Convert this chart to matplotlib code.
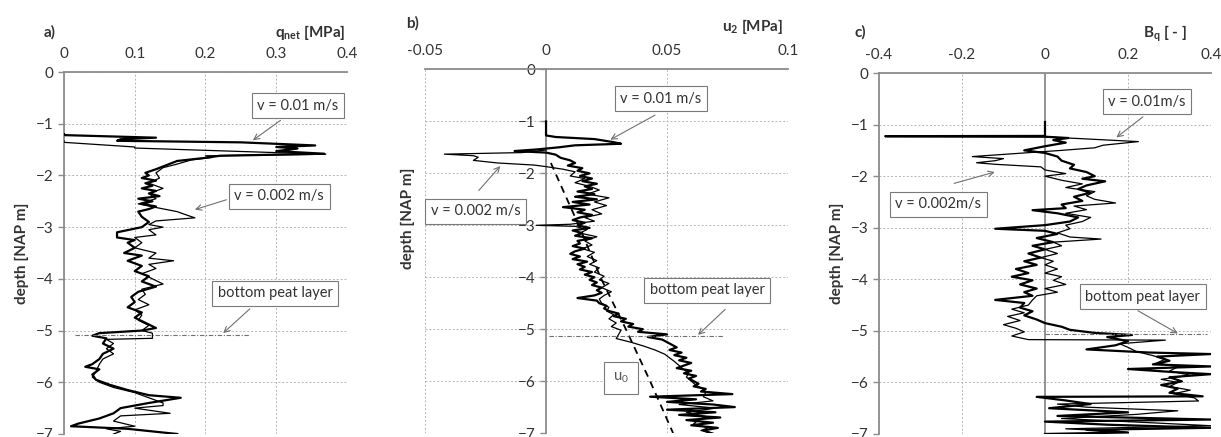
import numpy as np
import matplotlib.pyplot as plt

plt.rcParams['font.family'] = ['Lato', 'DejaVu Sans']
plt.rcParams['mathtext.fontset'] = 'custom'
plt.rcParams['mathtext.rm'] = 'Lato'
plt.rcParams['mathtext.bf'] = 'Lato:bold'
plt.rcParams['mathtext.it'] = 'Lato:italic'

# a) net cone resistance q_net [MPa]
qnet_fast_depth = [-1.20, -1.22, -1.27, -1.30, -1.33, -1.36, -1.42, -1.45, -1.48, -1.53, -1.58, -1.62, -1.66, -1.72,
                   -1.80, -1.88, -1.95, -2.00, -2.05, -2.10, -2.15, -2.20, -2.25, -2.30, -2.35, -2.40, -2.45, -2.50,
                   -2.55, -2.60, -2.65, -2.70, -2.80, -2.90, -3.00, -3.10, -3.20, -3.25, -3.30, -3.40, -3.50, -3.55,
                   -3.65, -3.75, -3.85, -3.95, -4.05, -4.15, -4.25, -4.35, -4.45, -4.55, -4.65, -4.75, -4.85, -4.95,
                   -5.00, -5.05, -5.10, -5.15, -5.25, -5.35, -5.45, -5.55, -5.65, -5.70, -5.75, -5.85, -5.95, -6.05,
                   -6.15, -6.25, -6.30, -6.40, -6.50, -6.60, -6.70, -6.80, -6.85, -6.90, -7.00]
qnet_fast = [0.0, 0.0, 0.13, 0.08, 0.075, 0.25, 0.355, 0.30, 0.33, 0.30, 0.368, 0.22, 0.20, 0.16,
             0.145, 0.13, 0.115, 0.12, 0.11, 0.13, 0.115, 0.125, 0.11, 0.13, 0.12, 0.135, 0.105, 0.125,
             0.11, 0.13, 0.12, 0.105, 0.11, 0.12, 0.11, 0.075, 0.075, 0.10, 0.09, 0.10, 0.085, 0.11,
             0.09, 0.11, 0.10, 0.12, 0.11, 0.13, 0.105, 0.095, 0.10, 0.09, 0.11, 0.10, 0.115, 0.13,
             0.11, 0.05, 0.04, 0.06, 0.055, 0.07, 0.055, 0.05, 0.04, 0.03, 0.05, 0.04, 0.045, 0.065,
             0.09, 0.12, 0.165, 0.12, 0.08, 0.07, 0.05, 0.02, 0.01, 0.09, 0.16]
qnet_slow_depth = [-1.33, -1.36, -1.45, -1.47, -1.59, -1.62, -1.65, -1.70, -1.78, -1.85, -1.95, -2.05, -2.15, -2.25,
                   -2.35, -2.45, -2.55, -2.62, -2.70, -2.75, -2.82, -2.88, -2.95, -3.00, -3.05, -3.15, -3.20, -3.30,
                   -3.40, -3.50, -3.60, -3.65, -3.72, -3.80, -3.90, -4.00, -4.10, -4.20, -4.30, -4.40, -4.50, -4.60,
                   -4.70, -4.80, -4.90, -5.00, -5.05, -5.15, -5.17, -5.25, -5.35, -5.45, -5.55, -5.65, -5.80, -5.90,
                   -6.00, -6.10, -6.20, -6.30, -6.40, -6.45, -6.50, -6.60, -6.65, -6.75, -6.85, -6.90, -6.95, -7.00]
qnet_slow = [0.0, 0.0, 0.10, 0.10, 0.37, 0.20, 0.21, 0.18, 0.16, 0.14, 0.13, 0.135, 0.12, 0.14,
             0.12, 0.13, 0.105, 0.13, 0.16, 0.17, 0.185, 0.13, 0.12, 0.14, 0.12, 0.13, 0.10, 0.11,
             0.10, 0.13, 0.12, 0.155, 0.12, 0.13, 0.11, 0.125, 0.14, 0.11, 0.115, 0.105, 0.12, 0.10,
             0.11, 0.105, 0.12, 0.11, 0.125, 0.125, 0.06, 0.07, 0.06, 0.07, 0.055, 0.05, 0.045, 0.04,
             0.05, 0.07, 0.10, 0.12, 0.14, 0.14, 0.10, 0.15, 0.08, 0.07, 0.10, 0.06, 0.08, 0.07]

# b) pore pressure u2 [MPa]
u2_fast_depth = [-1.00, -1.27, -1.30, -1.34, -1.40, -1.43, -1.46, -1.50, -1.54, -1.57, -1.60, -1.64, -1.70, -1.75,
                 -1.80, -1.85, -1.90, -1.95, -2.00, -2.05, -2.10, -2.15, -2.20, -2.25, -2.30, -2.35, -2.40, -2.45,
                 -2.50, -2.55, -2.60, -2.65, -2.70, -2.75, -2.80, -2.85, -2.90, -2.95, -3.00, -3.05, -3.10, -3.15,
                 -3.20, -3.25, -3.30, -3.35, -3.40, -3.45, -3.50, -3.55, -3.60, -3.65, -3.70, -3.75, -3.80, -3.85,
                 -3.90, -3.95, -4.00, -4.05, -4.10, -4.15, -4.20, -4.25, -4.30, -4.35, -4.40, -4.45, -4.50, -4.55,
                 -4.60, -4.65, -4.70, -4.75, -4.80, -4.85, -4.90, -4.95, -5.00, -5.05, -5.10, -5.15, -5.20, -5.25,
                 -5.30, -5.35, -5.40, -5.45, -5.50, -5.55, -5.60, -5.65, -5.70, -5.75, -5.80, -5.85, -5.90, -5.95,
                 -6.00, -6.05, -6.10, -6.15, -6.20, -6.25, -6.30, -6.35, -6.40, -6.45, -6.50, -6.55, -6.60, -6.65,
                 -6.70, -6.75, -6.80, -6.85, -6.90, -6.95, -7.00]
u2_fast = [0.0, 0.0, 0.004, 0.02, 0.028, 0.031, 0.012, 0.005, -0.004, -0.013, 0.0, 0.004, 0.006, 0.010,
           0.012, 0.009, 0.015, 0.013, 0.018, 0.014, 0.019, 0.015, 0.021, 0.016, 0.019, 0.013, 0.020, 0.012,
           0.021, 0.011, 0.018, 0.007, 0.016, 0.013, 0.019, 0.014, 0.011, 0.016, 0.013, 0.018, 0.011, 0.015,
           0.012, 0.019, 0.013, 0.014, 0.011, 0.016, 0.012, 0.010, 0.014, 0.011, 0.017, 0.013, 0.016, 0.014,
           0.019, 0.016, 0.020, 0.018, 0.021, 0.019, 0.023, 0.021, 0.023, 0.020, 0.013, 0.021, 0.022, 0.025,
           0.024, 0.026, 0.030, 0.028, 0.033, 0.031, 0.036, 0.034, 0.040, 0.038, 0.050, 0.042, 0.048, 0.050,
           0.052, 0.054, 0.051, 0.056, 0.053, 0.058, 0.055, 0.060, 0.057, 0.054, 0.060, 0.057, 0.062, 0.059,
           0.061, 0.063, 0.061, 0.066, 0.064, 0.077, 0.043, 0.062, 0.050, 0.069, 0.078, 0.050, 0.070, 0.055,
           0.072, 0.058, 0.069, 0.060, 0.071, 0.065, 0.068]
u2_slow_depth = [-1.55, -1.60, -1.63, -1.66, -1.69, -1.72, -1.75, -1.80, -1.84, -1.87, -1.92, -1.97, -2.05, -2.10,
                 -2.18, -2.25, -2.32, -2.40, -2.47, -2.55, -2.62, -2.70, -2.78, -2.85, -2.92, -2.98, -3.00, -3.02,
                 -3.08, -3.15, -3.22, -3.30, -3.38, -3.45, -3.52, -3.60, -3.68, -3.75, -3.82, -3.90, -3.98, -4.05,
                 -4.12, -4.20, -4.28, -4.35, -4.42, -4.50, -4.58, -4.65, -4.72, -4.80, -4.88, -4.95, -5.02, -5.10,
                 -5.18, -5.25, -5.32, -5.40, -5.48, -5.55, -5.62, -5.70, -5.78, -5.85, -5.92, -6.00, -6.08, -6.15,
                 -6.22, -6.30, -6.38, -6.45, -6.52, -6.60, -6.68, -6.75, -6.82, -6.90, -6.95, -7.00]
u2_slow = [0.0, -0.010, -0.042, -0.030, -0.028, -0.029, -0.030, -0.020, -0.005, 0.0, 0.007, 0.012, 0.010, 0.016,
           0.012, 0.018, 0.022, 0.017, 0.026, 0.020, 0.025, 0.019, 0.023, 0.016, 0.020, 0.010, -0.004, 0.012,
           0.017, 0.014, 0.021, 0.016, 0.019, 0.015, 0.020, 0.017, 0.021, 0.018, 0.022, 0.020, 0.024, 0.022,
           0.026, 0.023, 0.027, 0.024, 0.022, 0.023, 0.026, 0.025, 0.028, 0.026, 0.029, 0.027, 0.031, 0.030,
           0.029, 0.035, 0.040, 0.045, 0.049, 0.051, 0.053, 0.055, 0.057, 0.059, 0.058, 0.060, 0.062, 0.065,
           0.066, 0.065, 0.069, 0.055, 0.070, 0.058, 0.066, 0.063, 0.061, 0.067, 0.064, 0.069]
u0_depth = [-1.80, -3.00, -4.00, -5.00, -6.00, -7.00]
u0 = [0.002, 0.0135, 0.0225, 0.033, 0.043, 0.0525]

# c) pore pressure ratio Bq [-]
bq_fast_depth = [-0.95, -1.22, -1.225, -1.235, -1.26, -1.30, -1.35, -1.42, -1.50, -1.55, -1.62, -1.70, -1.78, -1.85,
                 -1.92, -2.00, -2.05, -2.10, -2.18, -2.25, -2.32, -2.40, -2.48, -2.55, -2.62, -2.66, -2.72, -2.80,
                 -2.88, -2.95, -3.02, -3.06, -3.12, -3.20, -3.28, -3.35, -3.42, -3.50, -3.58, -3.65, -3.72, -3.80,
                 -3.88, -3.95, -4.02, -4.10, -4.18, -4.25, -4.32, -4.40, -4.46, -4.55, -4.62, -4.70, -4.78, -4.85,
                 -4.92, -4.98, -5.04, -5.08, -5.12, -5.20, -5.28, -5.36, -5.42, -5.45, -5.50, -5.58, -5.65, -5.69,
                 -5.74, -5.80, -5.84, -5.90, -5.98, -6.05, -6.12, -6.20, -6.27, -6.28, -6.35, -6.42, -6.50, -6.58,
                 -6.65, -6.72, -6.76, -6.82, -6.88, -6.92, -6.97, -7.00]
bq_fast = [0.0, 0.0, -0.385, 0.0, 0.056, 0.02, 0.05, 0.0, -0.05, 0.0, 0.03, 0.04, 0.07, 0.06,
           0.10, 0.12, 0.09, 0.145, 0.10, 0.08, 0.11, 0.07, 0.09, 0.04, 0.05, -0.03, 0.03, 0.08,
           0.06, 0.0, -0.12, 0.0, 0.03, -0.02, 0.02, -0.03, 0.0, -0.04, -0.01, -0.05, -0.02, -0.07,
           -0.04, -0.08, -0.03, -0.06, -0.02, -0.05, -0.03, -0.12, -0.05, -0.06, -0.03, -0.05, -0.02, 0.0,
           0.04, 0.06, 0.12, 0.21, 0.15, 0.20, 0.17, 0.10, 0.25, 0.40, 0.27, 0.30, 0.26, 0.40,
           0.20, 0.31, 0.40, 0.30, 0.33, 0.28, 0.32, 0.30, 0.38, -0.02, 0.05, 0.11, 0.01, 0.20,
           0.03, 0.40, 0.0, 0.15, 0.40, 0.10, 0.20, 0.0]
bq_slow_depth = [-1.24, -1.27, -1.33, -1.40, -1.45, -1.50, -1.55, -1.62, -1.66, -1.70, -1.74, -1.77, -1.82, -1.88,
                 -1.95, -2.00, -2.08, -2.15, -2.22, -2.30, -2.38, -2.45, -2.52, -2.58, -2.65, -2.72, -2.80, -2.88,
                 -2.95, -3.02, -3.10, -3.18, -3.22, -3.28, -3.35, -3.42, -3.50, -3.58, -3.65, -3.72, -3.80, -3.88,
                 -3.95, -4.02, -4.10, -4.18, -4.25, -4.32, -4.40, -4.50, -4.58, -4.65, -4.72, -4.80, -4.88, -4.95,
                 -5.02, -5.10, -5.17, -5.18, -5.25, -5.32, -5.40, -5.48, -5.55, -5.62, -5.70, -5.78, -5.86, -5.94,
                 -6.00, -6.08, -6.15, -6.22, -6.30, -6.36, -6.42, -6.48, -6.55, -6.62, -6.70, -6.78, -6.84, -6.90,
                 -6.95, -7.00]
bq_slow = [0.0, 0.08, 0.225, 0.14, 0.12, 0.04, -0.05, -0.175, -0.10, -0.12, -0.165, -0.12, -0.01, 0.0,
           0.05, 0.0, 0.04, 0.09, 0.05, 0.12, 0.10, 0.12, 0.17, 0.07, 0.10, 0.05, 0.11, 0.09,
           0.05, 0.06, 0.03, 0.06, 0.135, 0.02, 0.04, 0.0, 0.03, -0.01, 0.02, 0.0, 0.03, 0.0,
           0.04, 0.02, 0.05, 0.0, 0.03, -0.02, -0.03, -0.04, -0.08, -0.05, -0.09, -0.06, -0.10, -0.07,
           -0.05, -0.08, -0.04, 0.29, 0.18, 0.20, 0.22, 0.26, 0.29, 0.27, 0.32, 0.30, 0.35, 0.28,
           0.32, 0.30, 0.35, 0.31, 0.36, 0.37, 0.03, 0.10, 0.32, 0.22, 0.04, 0.25, 0.40, 0.05,
           0.18, 0.10]

grey = '#8c8c8c'
txt = '#333333'
box = dict(boxstyle='square,pad=0.38', fc='white', ec='#7a7a7a', lw=0.8)
arr = dict(arrowstyle='->', color='#707070', lw=0.8, shrinkA=0, shrinkB=0)
peat_ls = (0, (4, 1.5, 1, 1.5))

fig = plt.figure(figsize=(12.21, 4.37), dpi=100)
ax_a = fig.add_axes([0.0524, 0.0069, 0.2318, 0.8283])
ax_b = fig.add_axes([0.3481, 0.0090, 0.2973, 0.8320])
ax_c = fig.add_axes([0.7199, 0.0069, 0.2719, 0.8260])

for ax in [ax_a, ax_b, ax_c]:
    ax.set_ylim(-7, 0)
    ax.set_yticks(np.arange(-7, 1, 1))
    ax.xaxis.tick_top()
    ax.grid(True, ls=(0, (2, 2)), color='#b5b5b5', lw=0.7)
    ax.set_axisbelow(True)
    for s in ['right', 'bottom']:
        ax.spines[s].set_visible(False)
    for s in ['left', 'top']:
        ax.spines[s].set_color(grey)
        ax.spines[s].set_linewidth(1.3)
    ax.tick_params(colors=grey, labelcolor=txt, labelsize=11, length=4, width=1)
    ax.tick_params(axis='x', length=0, pad=8)

# panel a
ax_a.set_xlim(0, 0.4)
ax_a.set_xticks([0, 0.1, 0.2, 0.3, 0.4])
ax_a.set_xticklabels(['0', '0.1', '0.2', '0.3', '0.4'])
ax_a.plot(qnet_slow, qnet_slow_depth, color='black', lw=0.9, zorder=3)
ax_a.plot(qnet_fast, qnet_fast_depth, color='black', lw=1.6, zorder=3)
ax_a.plot([0.016, 0.261], [-5.08, -5.08], color='#707070', lw=0.8, ls=peat_ls, zorder=4)
ax_a.set_ylabel('depth [NAP m]', fontsize=11, fontweight='bold', color=txt, labelpad=5)
ax_a.text(0.3306, -0.655, 'v = 0.01 m/s', ha='center', va='center', fontsize=10.5, color=txt, bbox=box, zorder=6)
ax_a.annotate('', xy=(0.267, -1.32), xytext=(0.306, -0.935), arrowprops=arr, zorder=6)
ax_a.text(0.3042, -2.40, 'v = 0.002 m/s', ha='center', va='center', fontsize=10.5, color=txt, bbox=box, zorder=6)
ax_a.annotate('', xy=(0.185, -2.66), xytext=(0.2296, -2.47), arrowprops=arr, zorder=6)
ax_a.text(0.2985, -4.28, 'bottom peat layer', ha='center', va='center', fontsize=10.5, color=txt, bbox=box, zorder=6)
ax_a.annotate('', xy=(0.225, -5.05), xytext=(0.2626, -4.58), arrowprops=arr, zorder=6)

# panel b
ax_b.set_xlim(-0.05, 0.1)
ax_b.set_xticks([-0.05, 0, 0.05, 0.1])
ax_b.set_xticklabels(['-0.05', '0', '0.05', '0.1'])
ax_b.spines['left'].set_position(('data', 0))
ax_b.plot(u2_slow, u2_slow_depth, color='black', lw=0.9, zorder=3)
ax_b.plot(u2_fast, u2_fast_depth, color='black', lw=1.6, zorder=3)
ax_b.plot(u0, u0_depth, color='black', lw=1.3, ls=(0, (4, 3)), zorder=3)
ax_b.plot([0.0011, 0.073], [-5.14, -5.14], color='#707070', lw=0.8, ls=peat_ls, zorder=4)
ax_b.text(0.0474, -0.56, 'v = 0.01 m/s', ha='center', va='center', fontsize=10.5, color=txt, bbox=box, zorder=6)
ax_b.annotate('', xy=(0.0266, -1.35), xytext=(0.045, -0.88), arrowprops=arr, zorder=6)
ax_b.text(-0.029, -2.73, 'v = 0.002 m/s', ha='center', va='center', fontsize=10.5, color=txt, bbox=box, zorder=6)
ax_b.annotate('', xy=(-0.0189, -1.86), xytext=(-0.0278, -2.33), arrowprops=arr, zorder=6)
ax_b.text(0.0667, -4.25, 'bottom peat layer', ha='center', va='center', fontsize=10.5, color=txt, bbox=box, zorder=6)
ax_b.annotate('', xy=(0.0628, -5.11), xytext=(0.074, -4.62), arrowprops=arr, zorder=6)
ax_b.text(0.031, -5.94, r'u$_0$', ha='center', va='center', fontsize=10.5, color='#555555',
          bbox=dict(boxstyle='square,pad=0.6', fc='white', ec='#7a7a7a', lw=0.8), zorder=6)
fig.text(0.334, 0.5, 'depth [NAP m]', rotation=90, ha='center', va='center', fontsize=11,
         fontweight='bold', color=txt)

# panel c
ax_c.set_xlim(-0.4, 0.4)
ax_c.set_xticks([-0.4, -0.2, 0, 0.2, 0.4])
ax_c.set_xticklabels(['-0.4', '-0.2', '0', '0.2', '0.4'])
ax_c.axvline(0, color=grey, lw=1.3, zorder=2)
ax_c.plot(bq_slow, bq_slow_depth, color='black', lw=0.9, zorder=3)
ax_c.plot(bq_fast, bq_fast_depth, color='black', lw=1.6, zorder=3)
ax_c.plot([0.0, 0.39], [-5.06, -5.06], color='#707070', lw=0.8, ls=peat_ls, zorder=4)
ax_c.set_ylabel('depth [NAP m]', fontsize=11, fontweight='bold', color=txt, labelpad=5)
ax_c.text(0.2455, -0.56, 'v = 0.01m/s', ha='center', va='center', fontsize=10.5, color=txt, bbox=box, zorder=6)
ax_c.annotate('', xy=(0.172, -1.25), xytext=(0.236, -0.85), arrowprops=arr, zorder=6)
ax_c.text(-0.2575, -2.545, 'v = 0.002m/s', ha='center', va='center', fontsize=10.5, color=txt, bbox=box, zorder=6)
ax_c.annotate('', xy=(-0.121, -1.92), xytext=(-0.219, -2.14), arrowprops=arr, zorder=6)
ax_c.text(0.236, -4.34, 'bottom peat layer', ha='center', va='center', fontsize=10.5, color=txt, bbox=box, zorder=6)
ax_c.annotate('', xy=(0.32, -5.05), xytext=(0.224, -4.61), arrowprops=arr, zorder=6)

# panel letters and axis titles
fig.text(0.036, 0.926, 'a)', fontsize=11, fontweight='bold', color=txt, va='center')
fig.text(0.283, 0.926, r'q$_\mathbf{net}$ [MPa]', fontsize=11, fontweight='bold', color=txt, ha='right', va='center')
fig.text(0.333, 0.946, 'b)', fontsize=11, fontweight='bold', color=txt, va='center')
fig.text(0.641, 0.94, r'u$_\mathbf{2}$ [MPa]', fontsize=11, fontweight='bold', color=txt, ha='right', va='center')
fig.text(0.700, 0.926, 'c)', fontsize=11, fontweight='bold', color=txt, va='center')
fig.text(0.972, 0.922, r'B$_\mathbf{q}$ [ - ]', fontsize=11, fontweight='bold', color=txt, ha='right', va='center')

fig.savefig('out.png', dpi=100)
